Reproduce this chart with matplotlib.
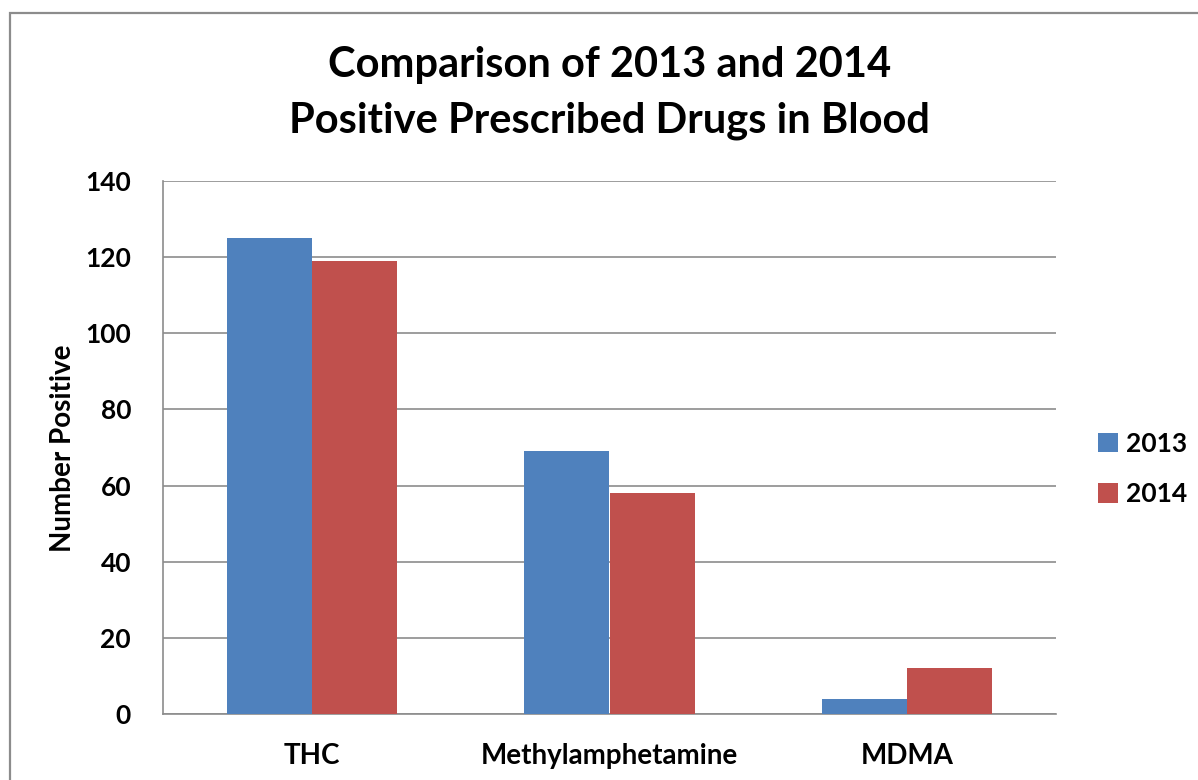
import matplotlib
matplotlib.use("Agg")
import matplotlib.pyplot as plt
import numpy as np
from matplotlib.patches import Rectangle

categories = ["THC", "Methylamphetamine", "MDMA"]
series_names = ["2013", "2014"]
values_2013 = [125, 69, 4]
values_2014 = [119, 58, 12]
yticks = [0, 20, 40, 60, 80, 100, 120, 140]

plt.rcParams['font.family'] = ['Lato', 'DejaVu Sans']
plt.rcParams['font.weight'] = 'bold'

W, H = 1198, 780
fig = plt.figure(figsize=(W/100, H/100), dpi=100)
fig.patch.set_facecolor('white')

# outer chart border (Excel style)
fig.add_artist(Rectangle((10/W, -0.1), 1.2, (1 - 13/H) + 0.1, transform=fig.transFigure,
                         fill=False, edgecolor='#8c8c8c', linewidth=1.6))

ax = fig.add_axes([163/W, 1 - 714/H, (1056-163)/W, (714-181)/H])
x = np.arange(len(categories))
w = 0.2857
ax.bar(x - w/2, values_2013, w, color='#4F81BD', label=series_names[0], zorder=3)
ax.bar(x + w/2, values_2014, w, color='#C0504D', label=series_names[1], zorder=3)

ax.set_xlim(-0.5, len(categories) - 0.5)
ax.set_ylim(0, 140)
ax.set_yticks(yticks)
ax.set_xticks(x)
ax.set_xticklabels(categories, fontsize=20, fontweight='bold')
ax.set_yticklabels([str(t) for t in yticks], fontsize=19, fontweight='bold')
ax.tick_params(axis='both', length=0)
ax.tick_params(axis='y', pad=23)
ax.tick_params(axis='x', pad=21)
ax.grid(axis='y', color='#8c8c8c', linewidth=1.2, zorder=0)
for s in ['top', 'right']:
    ax.spines[s].set_visible(False)
for s in ['left', 'bottom']:
    ax.spines[s].set_color('#8c8c8c')
    ax.spines[s].set_linewidth(1.2)
ax.set_ylabel("Number Positive", fontsize=20, fontweight='bold')
ax.yaxis.label.set_va('center')
ax.yaxis.set_label_coords((63 - 163) / (1056 - 163), (714 - 448) / (714 - 181))

cx = 0.5 * (163 + 1056) / W
fig.text(cx, 1 - 77/H, "Comparison of 2013 and 2014",
         ha='center', va='baseline', fontsize=30, fontweight='bold')
fig.text(cx, 1 - 132/H, "Positive Prescribed Drugs in Blood",
         ha='center', va='baseline', fontsize=30, fontweight='bold')

leg = fig.legend(loc='center left', bbox_to_anchor=(1098/W, 1 - 469/H), frameon=False,
                 fontsize=19, handlelength=0.75, handleheight=0.75, handletextpad=0.3,
                 labelspacing=1.0, borderpad=0, borderaxespad=0)
for t in leg.get_texts():
    t.set_fontweight('bold')

fig.savefig("out.png", dpi=100)
